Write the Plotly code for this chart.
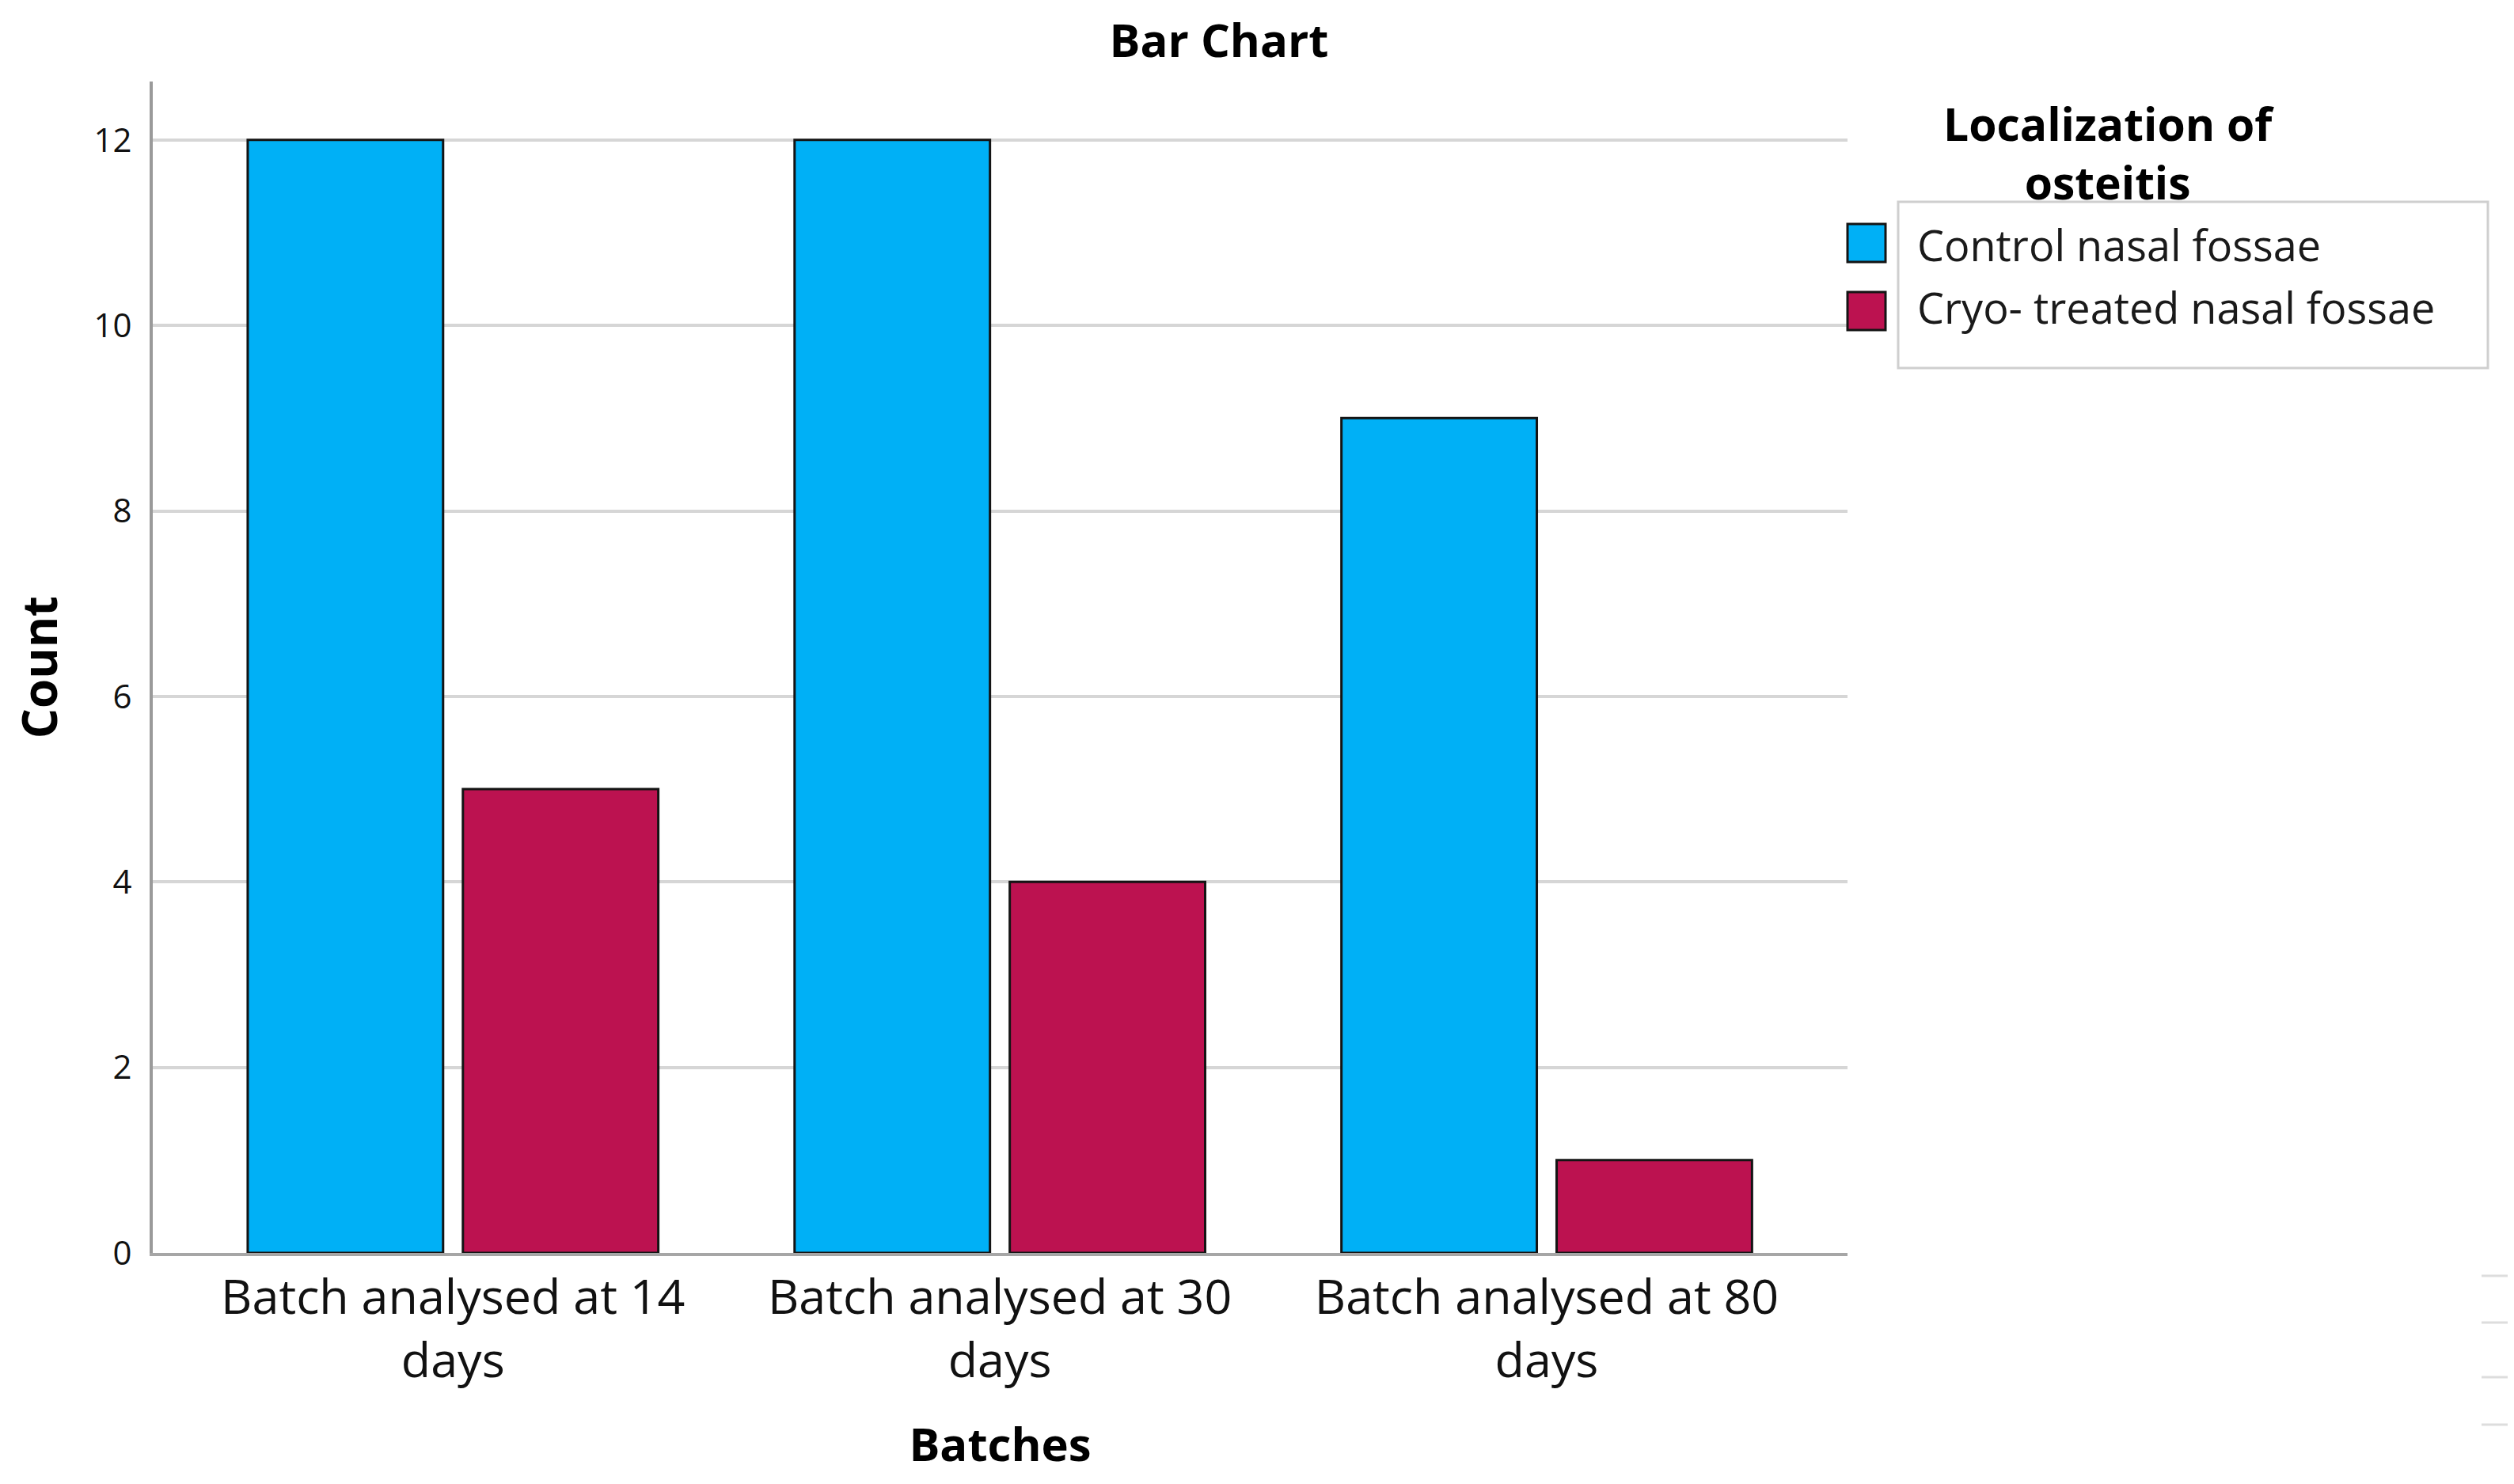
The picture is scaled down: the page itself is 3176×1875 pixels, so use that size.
import plotly.graph_objects as go

# ---- data ----
categories = ["Batch analysed at 14<br>days", "Batch analysed at 30<br>days", "Batch analysed at 80<br>days"]
control_counts = [12, 12, 9]
cryo_counts = [5, 4, 1]
series_names = ["Control nasal fossae", "Cryo- treated nasal fossae"]
y_tick_values = [0, 2, 4, 6, 8, 10, 12]
legend_title = "Localization of<br>osteitis"

# ---- style ----
FONT = "Open Sans"
BLUE = "#00b0f6"
RED = "#bc1250"
EDGE = "#141414"
OFF = 8                      # page body margin offset
W_FIG, H_FIG = 3176 - OFF, 1875 - OFF
L, R, T, B = 193 - OFF, 2334 - OFF, 103 - OFF, 1583 - OFF   # plot area in figure pixels


def px(x):
    """reference pixel x -> paper coordinate"""
    return (x - OFF - L) / (R - L)


def py(y):
    """reference pixel y -> paper coordinate"""
    return (B - (y - OFF)) / (B - T)


fig = go.Figure()
fig.add_trace(go.Bar(x=categories, y=control_counts, name=series_names[0],
                     marker=dict(color=BLUE, line=dict(color=EDGE, width=3)),
                     showlegend=False))
fig.add_trace(go.Bar(x=categories, y=cryo_counts, name=series_names[1],
                     marker=dict(color=RED, line=dict(color=EDGE, width=3)),
                     showlegend=False))

shapes = []
annotations = []

# legend (drawn manually so swatches match the reference size)
shapes.append(dict(type="rect", xref="paper", yref="paper",
                   x0=px(2398), x1=px(3143), y0=py(465), y1=py(255),
                   line=dict(color="#cfcfcf", width=3), fillcolor="rgba(0,0,0,0)"))
swatch_rows = [(283, 331), (369, 417)]
text_rows = [309, 388]
colors = [BLUE, RED]
for (y0, y1), ty, c, name in zip(swatch_rows, text_rows, colors, series_names):
    shapes.append(dict(type="rect", xref="paper", yref="paper",
                       x0=px(2334), x1=px(2382), y0=py(y1), y1=py(y0),
                       line=dict(color=EDGE, width=3), fillcolor=c))
    annotations.append(dict(text=name, xref="paper", yref="paper",
                            x=px(2420), y=py(ty), xanchor="left", yanchor="middle",
                            showarrow=False, font=dict(family=FONT, size=54, color="#1a1a1a")))
annotations.append(dict(text="<b>" + legend_title + "</b>", xref="paper", yref="paper",
                        x=px(2664), y=py(193), xanchor="center", yanchor="middle",
                        showarrow=False, font=dict(family=FONT, size=57, color="#000")))

# small grid fragments at right edge of reference image
for yy in [1612, 1671, 1740, 1800]:
    shapes.append(dict(type="line", xref="paper", yref="paper",
                       x0=px(3135), x1=px(3176), y0=py(yy), y1=py(yy),
                       line=dict(color="#dddddd", width=3)))

fig.update_layout(
    width=W_FIG, height=H_FIG,
    margin=dict(l=L, r=W_FIG - R, t=T, b=H_FIG - B, pad=0),
    paper_bgcolor="white", plot_bgcolor="white",
    font=dict(family=FONT, color="#1a1a1a"),
    barmode="group", bargap=0.213, bargroupgap=0.092,
    title=dict(text="<b>Bar Chart</b>", x=(1540 - OFF) / W_FIG, xref="container", xanchor="center",
               y=1 - (52 - OFF) / H_FIG, yref="container", yanchor="middle",
               font=dict(family=FONT, size=58, color="#000")),
    shapes=shapes, annotations=annotations,
    showlegend=False,
)
fig.update_xaxes(
    range=[-0.549, 2.55], showline=True, linecolor="#a6a6a6", linewidth=4,
    showgrid=False, ticks="", tickfont=dict(family=FONT, size=61, color="#111"),
    title=dict(text="<b>Batches</b>", font=dict(family=FONT, size=58, color="#000"), standoff=50),
)
fig.update_yaxes(
    range=[0, 12.63], tickvals=y_tick_values, showline=True, linecolor="#9a9a9a", linewidth=4,
    showgrid=True, gridcolor="#d6d6d6", gridwidth=4, zeroline=False, ticks="",
    ticklabelstandoff=14, tickfont=dict(family=FONT, size=42, color="#111"),
    title=dict(text="<b>Count</b>", font=dict(family=FONT, size=60, color="#000"), standoff=55),
)

fig.write_html("out.html")
